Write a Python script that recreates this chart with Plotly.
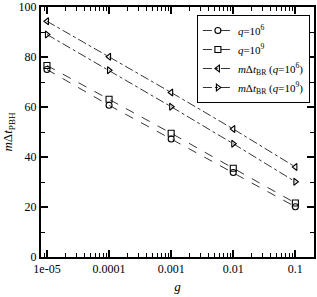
import plotly.graph_objects as go

g = [1e-5, 1e-4, 1e-3, 1e-2, 1e-1]
q6 = [75, 60.7, 47.2, 33.8, 20.1]
q9 = [76.6, 63.1, 49.5, 35.5, 21.6]
br6 = [94.3, 80.1, 65.8, 51.2, 36.0]
br9 = [89.0, 74.7, 60.1, 45.3, 30.1]

x_tickvals = [1e-5, 1e-4, 1e-3, 1e-2, 1e-1]
x_ticktext = ["1e-05", "0.0001", "0.001", "0.01", "0.1"]
y_tickvals = [0, 20, 40, 60, 80, 100]

FONT = "Liberation Serif, Times New Roman, serif"

series = [
    (q6, "<i>q</i>=10<sup>6</sup>", "circle-open", "dash"),
    (q9, "<i>q</i>=10<sup>9</sup>", "square-open", "dash"),
    (br6, "<i>m</i>Δ<i>t</i><sub>BR</sub> (<i>q</i>=10<sup>6</sup>)", "triangle-left-open", "dashdot"),
    (br9, "<i>m</i>Δ<i>t</i><sub>BR</sub> (<i>q</i>=10<sup>9</sup>)", "triangle-right-open", "dashdot"),
]

fig = go.Figure()
for ys, name, sym, dash in series:
    fig.add_trace(go.Scatter(
        x=g, y=ys, name=name, mode="lines+markers",
        line=dict(color="black", width=0.8, dash=dash),
        marker=dict(symbol=sym, size=6, color="black", line=dict(width=1.1, color="black")),
    ))

fig.update_layout(
    template="none",
    width=317, height=297,
    margin=dict(l=41, r=3, t=7, b=40, autoexpand=False),
    paper_bgcolor="white", plot_bgcolor="white",
    font=dict(family=FONT, size=12, color="black"),
    showlegend=True,
    legend=dict(x=0.985, y=0.968, xanchor="right", yanchor="top",
                bordercolor="black", borderwidth=1, bgcolor="white",
                font=dict(family=FONT, size=11), tracegroupgap=0,
                itemwidth=30),
)
fig.update_xaxes(
    type="log", range=[-5.096, -0.70], automargin=False,
    tickvals=x_tickvals, ticktext=x_ticktext, ticklabeloverflow="allow",
    ticks="inside", ticklen=7, tickwidth=1.5, tickcolor="black",
    minor=dict(ticks="inside", ticklen=4, tickwidth=1, tickcolor="black", dtick="D1", showgrid=False),
    showline=True, linewidth=2, linecolor="black", mirror="allticks",
    showgrid=False, zeroline=False,
    title=dict(text="<i>g</i>", font=dict(family=FONT, size=13), standoff=6),
    tickfont=dict(family=FONT, size=12),
)
fig.update_yaxes(
    range=[0, 100], automargin=False,
    tickvals=y_tickvals, ticklabeloverflow="allow",
    ticks="inside", ticklen=7, tickwidth=1.5, tickcolor="black",
    minor=dict(ticks="inside", ticklen=4, tickwidth=1, tickcolor="black", dtick=10, showgrid=False),
    showline=True, linewidth=2, linecolor="black", mirror="allticks",
    showgrid=False, zeroline=False,
    title=dict(text="<i>m</i>Δ<i>t</i><sub>PBH</sub>", font=dict(family=FONT, size=13), standoff=4),
    tickfont=dict(family=FONT, size=12),
)

fig.write_html("out.html", config={"displayModeBar": False},
               post_script="document.body.style.margin='0';document.body.style.overflow='hidden';")
